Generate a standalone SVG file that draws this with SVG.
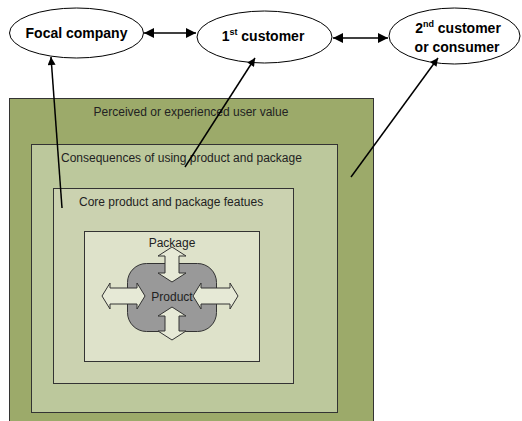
<svg xmlns="http://www.w3.org/2000/svg" width="522" height="421" viewBox="0 0 522 421">
<defs>
<marker id="ah" viewBox="0 0 10 10" refX="10" refY="5" markerWidth="10" markerHeight="8" markerUnits="userSpaceOnUse" orient="auto-start-reverse">
<path d="M0,0 L10,5 L0,10 z" fill="#000"/>
</marker>
<marker id="ah2" viewBox="0 0 10 10" refX="10" refY="5" markerWidth="15" markerHeight="10" markerUnits="userSpaceOnUse" orient="auto-start-reverse">
<path d="M0,0 L10,5 L0,10 z" fill="#000"/>
</marker>
<style>
.box{stroke:#333;stroke-width:1}
.node{fill:#fff;stroke:#000;stroke-width:1}
.lbl{font-family:"Liberation Sans",Arial,sans-serif;font-size:14px;font-weight:bold;fill:#000}
.sup{font-size:9px}
.t{font-family:"Liberation Sans",Arial,sans-serif;font-size:12px;fill:#222}
.arr{fill:#e6e9d6;stroke:#333;stroke-width:1}
.con{stroke:#000;stroke-width:1.5;fill:none}
</style>
</defs>
<rect width="522" height="421" fill="#fff"/>
<g id="layers">
<rect class="box" x="9.5" y="98.5" width="364" height="330" fill="#9caa6a" stroke="#555"/>
<rect class="box" x="31.5" y="144.5" width="306" height="268" fill="#bcc89c"/>
<rect class="box" x="53.5" y="188.5" width="240" height="195" fill="#cbd2b0"/>
<rect class="box" x="84.5" y="231.5" width="175" height="130" fill="#dee2ca"/>
<text class="t" x="191" y="116" text-anchor="middle">Perceived or experienced user value</text>
<text class="t" x="61" y="162">Consequences of using product and package</text>
<text class="t" x="79" y="206">Core product and package featues</text>
</g>
<g id="product">
<rect x="127.5" y="263.5" width="89" height="68" rx="19" ry="19" fill="#999" stroke="#333"/>
<path class="arr" d="M165,256 L158,256 L172,247 L186,256 L179,256 L179,273 L186,273 L172,282 L158,273 L165,273 Z"/>
<path class="arr" d="M165,316 L158,316 L172,307 L186,316 L179,316 L179,331 L186,331 L172,340 L158,331 L165,331 Z"/>
<path class="arr" d="M110,288 L110,283 L102,296 L110,309 L110,304 L137,304 L137,309 L145,296 L137,283 L137,288 Z"/>
<path class="arr" d="M201,288 L201,283 L193,296 L201,309 L201,304 L230,304 L230,309 L238,296 L230,283 L230,288 Z"/>
<text class="t" x="172" y="247" text-anchor="middle">Package</text>
<text class="t" x="172" y="301" text-anchor="middle">Product</text>
</g>
<g id="focal">
<ellipse class="node" cx="76.5" cy="33" rx="67" ry="25"/>
<text class="lbl" x="76.5" y="38" text-anchor="middle">Focal company</text>
</g>
<g id="customer1">
<ellipse class="node" cx="264.5" cy="37" rx="67.5" ry="26"/>
<text class="lbl" x="263" y="41" text-anchor="middle">1<tspan class="sup" dy="-6">st</tspan><tspan dy="6"> customer</tspan></text>
</g>
<g id="customer2">
<ellipse class="node" cx="454.5" cy="36" rx="65.5" ry="28"/>
<text class="lbl" x="458" y="33" text-anchor="middle">2<tspan class="sup" dy="-6">nd</tspan><tspan dy="6"> customer</tspan></text>
<text class="lbl" x="457" y="52" text-anchor="middle">or consumer</text>
</g>
<g id="connectors">
<line class="con" x1="144" y1="33" x2="196" y2="33" marker-start="url(#ah2)" marker-end="url(#ah2)"/>
<line class="con" x1="333" y1="38" x2="388" y2="38" marker-start="url(#ah2)" marker-end="url(#ah2)"/>
<line class="con" x1="62" y1="208" x2="51" y2="57" marker-end="url(#ah)"/>
<line class="con" x1="185" y1="167" x2="255" y2="58" marker-end="url(#ah)"/>
<line class="con" x1="351" y1="177" x2="438" y2="58" marker-end="url(#ah)"/>
</g>
</svg>
